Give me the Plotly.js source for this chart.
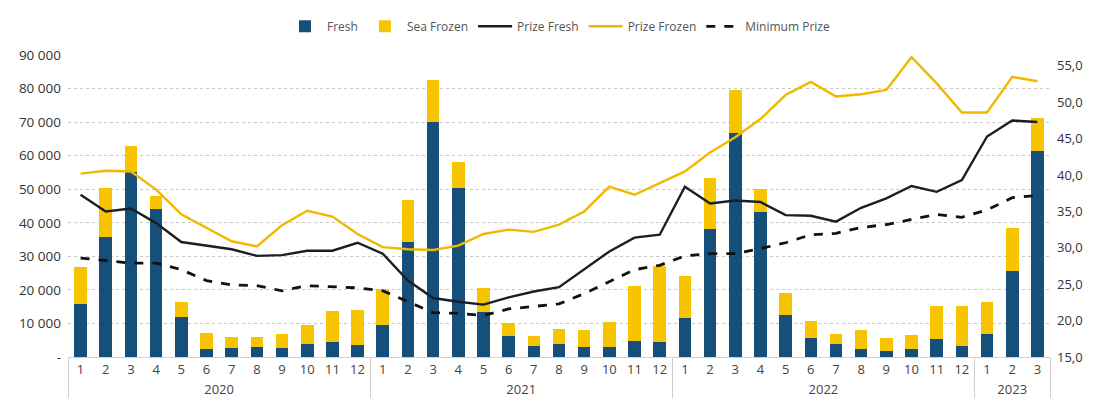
<!DOCTYPE html>
<html>
<head>
<meta charset="utf-8">
<script src="https://cdn.plot.ly/plotly-3.0.1.min.js"></script>
<style>html,body{margin:0;padding:0;background:#fff;}#chart{width:1094px;height:401px;}</style>
</head>
<body>
<div id="chart"></div>
<script>
const years = ["2020","2020","2020","2020","2020","2020","2020","2020","2020","2020","2020","2020",
  "2021","2021","2021","2021","2021","2021","2021","2021","2021","2021","2021","2021",
  "2022","2022","2022","2022","2022","2022","2022","2022","2022","2022","2022","2022",
  "2023","2023","2023"];
const months = ["1","2","3","4","5","6","7","8","9","10","11","12",
  "1","2","3","4","5","6","7","8","9","10","11","12",
  "1","2","3","4","5","6","7","8","9","10","11","12",
  "1","2","3"];

// Volumes (stacked bars, left axis)
const fresh = [15700, 35900, 55100, 44100, 12000, 2400, 2700, 3000, 2600, 3900, 4400, 3500,
  9500, 34400, 70100, 50300, 13500, 6400, 3200, 3800, 3000, 3000, 4900, 4400,
  11750, 38200, 66900, 43300, 12500, 5600, 3900, 2500, 1700, 2500, 5500, 3300,
  7000, 25600, 61400];
const seaFrozenTotal = [26900, 50500, 62900, 47900, 16400, 7300, 6100, 6100, 6900, 9500, 13600, 14100,
  20400, 46700, 82500, 58000, 20700, 10100, 6300, 8400, 7900, 10400, 21300, 27000,
  24200, 53400, 79600, 50100, 19000, 10600, 6800, 8000, 5800, 6600, 15200, 15200,
  16300, 38300, 71100];
const seaFrozen = seaFrozenTotal.map((t, i) => t - fresh[i]);

// Prices (lines, right axis)
const prizeFresh = [37.3, 35.0, 35.4, 33.4, 30.8, 30.3, 29.8, 28.9, 29.0, 29.6, 29.6, 30.7,
  29.2, 25.5, 23.1, 22.6, 22.2, 23.2, 24.0, 24.6, 27.0, 29.5, 31.4, 31.8,
  38.4, 36.1, 36.5, 36.3, 34.5, 34.4, 33.6, 35.5, 36.8, 38.5, 37.7, 39.3,
  45.3, 47.5, 47.3];
const prizeFrozen = [40.2, 40.6, 40.5, 38.0, 34.6, 32.8, 30.9, 30.2, 33.1, 35.1, 34.3, 31.9,
  30.1, 29.8, 29.7, 30.3, 31.9, 32.5, 32.2, 33.2, 35.0, 38.4, 37.3, 38.9,
  40.5, 43.1, 45.2, 47.7, 51.0, 52.8, 50.8, 51.1, 51.7, 56.2, 52.6, 48.6,
  48.6, 53.5, 52.9];
const minimumPrize = [28.6, 28.3, 27.9, 27.9, 27.0, 25.5, 24.9, 24.8, 24.1, 24.8, 24.7, 24.5,
  24.1, 22.6, 21.1, 21.0, 20.7, 21.6, 22.0, 22.3, 23.7, 25.4, 27.0, 27.6,
  28.9, 29.2, 29.2, 29.9, 30.7, 31.8, 32.0, 32.8, 33.2, 33.9, 34.6, 34.2,
  35.2, 36.9, 37.2];

const leftTickVals = [0, 10000, 20000, 30000, 40000, 50000, 60000, 70000, 80000, 90000];
const leftTickText = ["-", "10 000", "20 000", "30 000", "40 000", "50 000", "60 000", "70 000", "80 000", "90 000"];
const rightTickVals = [15, 20, 25, 30, 35, 40, 45, 50, 55];
const rightTickText = ["15,0", "20,0", "25,0", "30,0", "35,0", "40,0", "45,0", "50,0", "55,0"];

const x = [years, months];
const FONT = "Open Sans, Lato, sans-serif";

const traces = [
  {type: "bar", name: "Fresh", x: x, y: fresh, marker: {color: "#16507a"}, yaxis: "y"},
  {type: "bar", name: "Sea Frozen", x: x, y: seaFrozen, marker: {color: "#f6c500"}, yaxis: "y"},
  {type: "scatter", mode: "lines", name: "Prize Fresh", x: x, y: prizeFresh, yaxis: "y2",
    line: {color: "#1b1f24", width: 2.4}},
  {type: "scatter", mode: "lines", name: "Prize Frozen", x: x, y: prizeFrozen, yaxis: "y2",
    line: {color: "#f0b900", width: 2.4}},
  {type: "scatter", mode: "lines", name: "Minimum Prize", x: x, y: minimumPrize, yaxis: "y2",
    line: {color: "#111111", width: 2.8, dash: "dash"}}
];

const layout = {
  width: 1094, height: 401,
  margin: {l: 68, r: 44, t: 43, b: 44},
  paper_bgcolor: "#ffffff", plot_bgcolor: "#ffffff",
  barmode: "stack",
  bargap: 0.5,
  font: {family: FONT, size: 12, color: "#333333"},
  showlegend: true,
  legend: {orientation: "h", x: 0.5, xanchor: "center", y: 1.095, yanchor: "middle",
    traceorder: "normal", font: {family: FONT, size: 12, color: "#555555"}, itemwidth: 34},
  xaxis: {
    type: "multicategory",
    showgrid: false,
    showline: true, linecolor: "#d0d0d0", linewidth: 1,
    showdividers: true, dividercolor: "#cfcfcf", dividerwidth: 1,
    ticks: "", tickfont: {family: FONT, size: 13, color: "#444444"},
    fixedrange: true
  },
  yaxis: {
    range: [0, 90000],
    tickvals: leftTickVals, ticktext: leftTickText,
    showgrid: true, gridcolor: "#c8c8c8", griddash: "dot", gridwidth: 1,
    zeroline: false, showline: false, ticks: "",
    ticklabelstandoff: 6,
    tickfont: {family: FONT, size: 13.5, color: "#333333"},
    fixedrange: true
  },
  yaxis2: {
    overlaying: "y", side: "right",
    range: [15, 56.5],
    tickvals: rightTickVals, ticktext: rightTickText,
    showgrid: false, zeroline: false, showline: false, ticks: "",
    ticklabelstandoff: 6,
    tickfont: {family: FONT, size: 13, color: "#333333"},
    fixedrange: true
  }
};

Plotly.newPlot("chart", traces, layout, {displayModeBar: false, staticPlot: true});
</script>
</body>
</html>
